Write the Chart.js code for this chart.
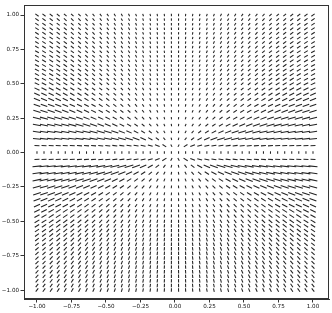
<!DOCTYPE html>
<html><head><meta charset="utf-8">
<script src="https://cdn.jsdelivr.net/npm/chart.js@4/dist/chart.umd.min.js"></script>
<style>html,body{margin:0;padding:0;background:#fff}canvas{display:block}</style>
</head><body>
<canvas id="c" width="332" height="313"></canvas>
<script>
// Grid columns (x positions of arrows)
const xs = [-1.000,-0.949,-0.897,-0.846,-0.795,-0.744,-0.692,-0.641,-0.590,-0.538,
            -0.487,-0.436,-0.385,-0.333,-0.282,-0.231,-0.179,-0.128,-0.077,-0.026,
             0.026, 0.077, 0.128, 0.179, 0.231, 0.282, 0.333, 0.385, 0.436, 0.487,
             0.538, 0.590, 0.641, 0.692, 0.744, 0.795, 0.846, 0.897, 0.949, 1.000];
// Grid rows (y positions of arrows)
const ys = [1.000,0.967,0.933,0.900,0.867,0.833,0.800,0.767,0.733,0.700,0.667,0.633,0.600,0.567,0.533,
            0.500,0.462,0.424,0.386,0.343,0.300,0.250,0.200,0.150,0.100,0.050,
            0.000,
            -0.050,-0.100,-0.150,-0.200,-0.250,-0.300,-0.343,-0.386,-0.424,-0.462,
            -0.500,-0.533,-0.567,-0.600,-0.633,-0.667,-0.700,-0.733,-0.767,-0.800,-0.833,-0.867,-0.900,-0.933,-0.967,-1.000];
// Per-row vertical component of the arrow direction (horizontal component is x)
const rowDy = [0.72,0.70,0.68,0.66,0.64,0.63,0.61,0.60,0.58,0.57,0.56,0.54,0.53,0.51,0.50,
               0.48,0.45,0.42,0.38,0.34,0.30,0.25,0.20,0.15,0.10,0.05,
               0.00,
               -0.05,-0.10,-0.15,-0.21,-0.27,-0.33,-0.39,-0.44,-0.50,-0.55,
               -0.60,-0.64,-0.69,-0.74,-0.78,-0.83,-0.88,-0.92,-0.97,-1.01,-1.06,-1.10,-1.15,-1.19,-1.24,-1.28];
// Per-row arrow length parameters (data units)
const rowUnit = [0.0174,0.0174,0.0174,0.0174,0.0174,0.0174,0.0174,0.0174,0.0174,0.0174,0.0174,0.0174,0.0174,0.0174,0.0174,
                 0.0174,0.0174,0.0174,0.0174,0.0174,0.0174,0.0174,0.0174,0.0174,0.0174,0.0174,
                 0.0180,
                 0.0200,0.0200,0.0200,0.0200,0.0200,0.0200,0.0205,0.0210,0.0215,0.0220,
                 0.0225,0.0230,0.0235,0.0240,0.0245,0.0250,0.0250,0.0250,0.0250,0.0250,0.0250,0.0250,0.0250,0.0250,0.0250,0.0250];
const rowCap  = [0.030,0.030,0.030,0.030,0.030,0.030,0.030,0.030,0.031,0.031,0.032,0.032,0.033,0.033,0.034,
                 0.036,0.040,0.044,0.048,0.050,0.055,0.060,0.060,0.060,0.058,0.036,
                 0.018,
                 0.036,0.065,0.065,0.065,0.062,0.058,0.053,0.048,0.045,0.042,
                 0.040,0.038,0.036,0.035,0.034,0.033,0.032,0.032,0.031,0.031,0.030,0.030,0.030,0.030,0.030,0.030];
const xTicks = [-1.00,-0.75,-0.50,-0.25,0.00,0.25,0.50,0.75,1.00];
const yTicks = [-1.00,-0.75,-0.50,-0.25,0.00,0.25,0.50,0.75,1.00];

const pts = [];
ys.forEach((y, i) => {
  const dyRow = rowDy[i];
  xs.forEach(x => {
    let dx, dy, len;
    if (dyRow === 0) { dx = 0; dy = 1; len = rowCap[i]; }
    else {
      const r = Math.hypot(x, dyRow);
      dx = x / r; dy = dyRow / r;
      len = Math.min(rowCap[i], rowUnit[i] * r / Math.abs(dyRow));
    }
    pts.push({x: x, y: y, u: dx * len, v: dy * len});
  });
});

function pxScale(chart) {
  const sx = chart.scales.x, sy = chart.scales.y;
  return [Math.abs(sx.getPixelForValue(1) - sx.getPixelForValue(0)),
          Math.abs(sy.getPixelForValue(1) - sy.getPixelForValue(0))];
}
const fmt = v => (Math.abs(v) < 1e-9 ? 0 : v).toFixed(2).replace('-', '\u2212');

const frame = {
  id: 'frame',
  afterDraw(chart) {
    const a = chart.chartArea, c = chart.ctx;
    c.save(); c.strokeStyle = '#333'; c.lineWidth = 1;
    c.strokeRect(Math.round(a.left) + 0.5, Math.round(a.top) + 0.5,
                 Math.round(a.right - a.left) - 1, Math.round(a.bottom - a.top) - 1);
    c.restore();
  }
};

new Chart(document.getElementById('c'), {
  type: 'scatter',
  data: { datasets: [{
    data: pts,
    pointStyle: 'line',
    borderColor: '#222',
    borderWidth: 1.05,
    backgroundColor: '#222',
    rotation: ctx => {
      const p = ctx.raw; if (!p) return 0;
      const [kx, ky] = pxScale(ctx.chart);
      return Math.atan2(-p.v * ky, p.u * kx) * 180 / Math.PI;
    },
    radius: ctx => {
      const p = ctx.raw; if (!p) return 1;
      const [kx, ky] = pxScale(ctx.chart);
      return Math.max(0.6, Math.hypot(p.u * kx, p.v * ky) / 2);
    },
    hoverRadius: 0,
  }]},
  options: {
    responsive: false, animation: false, events: [],
    layout: { padding: { top: 5, right: 3, left: 0, bottom: 0 } },
    plugins: { legend: { display: false }, tooltip: { enabled: false } },
    scales: {
      x: {
        type: 'linear', min: -1.094, max: 1.116,
        afterBuildTicks: s => { s.ticks = xTicks.map(v => ({value: v})); },
        afterFit: s => { s.height = 14; },
        grid: { drawOnChartArea: false, drawTicks: true, tickLength: 3.5, tickColor: '#000', tickWidth: 0.8 },
        border: { display: true, color: '#333', width: 1 },
        ticks: { callback: v => fmt(v), color: '#111', padding: 1, maxRotation: 0, autoSkip: false,
                 font: { family: 'DejaVu Sans', size: 5.6 } }
      },
      y: {
        type: 'linear', min: -1.065, max: 1.073,
        afterBuildTicks: s => { s.ticks = yTicks.map(v => ({value: v})); },
        afterFit: s => { s.width = 24; },
        grid: { drawOnChartArea: false, drawTicks: true, tickLength: 3.5, tickColor: '#000', tickWidth: 0.8 },
        border: { display: true, color: '#333', width: 1 },
        ticks: { callback: v => fmt(v), color: '#111', padding: 1.5, autoSkip: false,
                 font: { family: 'DejaVu Sans', size: 5.6 } }
      }
    }
  },
  plugins: [frame]
});
</script>
</body></html>
